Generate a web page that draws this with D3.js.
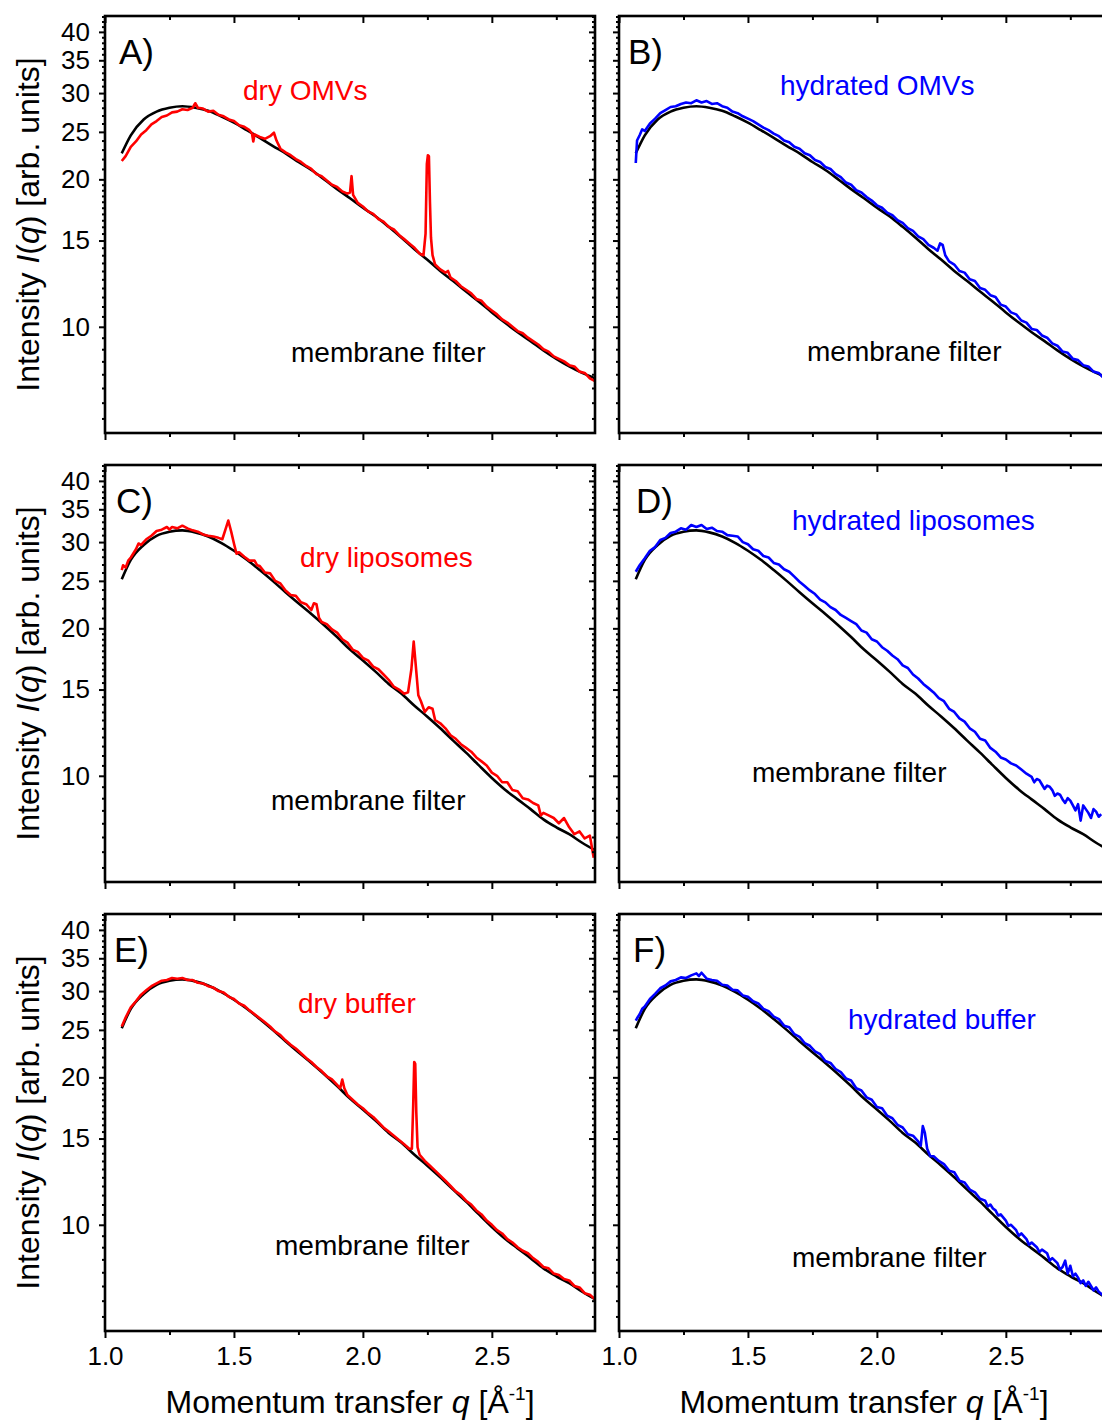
<!DOCTYPE html>
<html>
<head>
<meta charset="utf-8">
<script src="https://cdn.jsdelivr.net/npm/d3@7"></script>
<style>
  body { margin: 0; background: #fff; }
  svg { display: block; font-family: "Liberation Sans", Arial, sans-serif; }
</style>
</head>
<body>
<div id="chart"></div>
<script>
// membrane filter reference curves (q in 1/A, intensity arb. units)
const qFilter = [1.065, 1.10, 1.15, 1.20, 1.25, 1.30, 1.35, 1.40, 1.45, 1.50, 1.55, 1.60, 1.65, 1.70, 1.75,
  1.80, 1.85, 1.90, 1.95, 2.00, 2.05, 2.10, 2.15, 2.20, 2.25, 2.30, 2.35, 2.40, 2.45, 2.50, 2.55, 2.60,
  2.65, 2.70, 2.75, 2.80, 2.85, 2.90];
const filterAB = [22.6, 24.6, 26.5, 27.5, 28.0, 28.2, 28.0, 27.6, 26.9, 26.1, 25.2, 24.3, 23.4, 22.6, 21.7,
  20.9, 20.0, 19.1, 18.3, 17.5, 16.8, 16.0, 15.2, 14.4, 13.7, 13.0, 12.4, 11.8, 11.25, 10.7, 10.2, 9.75,
  9.35, 8.95, 8.6, 8.3, 8.05, 7.85];
const filterCF = [25.2, 27.6, 29.6, 30.9, 31.5, 31.7, 31.4, 30.8, 29.9, 28.8, 27.6, 26.3, 25.0, 23.7, 22.5,
  21.4, 20.3, 19.2, 18.1, 17.2, 16.3, 15.4, 14.7, 13.9, 13.2, 12.5, 11.8, 11.15, 10.5, 9.9, 9.38, 8.95,
  8.55, 8.15, 7.85, 7.6, 7.3, 7.05];

// sample curves [q, I]
const dryOMVs = [[1.065, 21.8], [1.08, 22.3], [1.10, 23.3], [1.12, 23.9], [1.14, 24.7], [1.16, 25.2], [1.18, 25.9],
  [1.20, 26.3], [1.22, 26.8], [1.24, 27.0], [1.26, 27.4], [1.28, 27.5], [1.30, 27.8], [1.32, 27.7], [1.34, 28.0],
  [1.35, 28.6], [1.36, 28.0], [1.38, 27.9], [1.40, 27.5], [1.42, 27.6], [1.44, 27.1], [1.46, 26.9], [1.48, 26.5],
  [1.50, 26.3], [1.52, 25.8], [1.54, 25.6], [1.56, 25.2], [1.57, 24.8], [1.575, 23.9], [1.58, 24.7], [1.60, 24.4],
  [1.62, 24.2], [1.64, 24.5], [1.655, 24.9], [1.665, 24.0], [1.68, 23.1], [1.70, 22.7], [1.72, 22.4], [1.74, 22.0],
  [1.76, 21.7], [1.78, 21.3], [1.80, 21.0], [1.82, 20.5], [1.84, 20.3], [1.86, 19.9], [1.88, 19.5], [1.90, 19.3],
  [1.92, 18.9], [1.94, 18.7], [1.95, 18.8], [1.956, 20.3], [1.962, 18.6], [1.98, 17.9], [2.00, 17.6], [2.02, 17.2],
  [2.04, 17.0], [2.06, 16.6], [2.08, 16.4], [2.10, 16.0], [2.12, 15.8], [2.14, 15.4], [2.16, 15.1], [2.18, 14.8],
  [2.20, 14.5], [2.22, 14.1], [2.235, 14.0], [2.243, 15.5], [2.248, 21.5], [2.252, 22.4], [2.256, 22.3],
  [2.26, 18.0], [2.264, 15.2], [2.27, 14.0], [2.28, 13.4], [2.30, 13.1], [2.32, 12.9], [2.33, 13.0], [2.34, 12.6],
  [2.36, 12.4], [2.38, 12.1], [2.40, 11.9], [2.42, 11.7], [2.44, 11.4], [2.46, 11.3], [2.48, 11.0], [2.50, 10.8],
  [2.52, 10.6], [2.54, 10.35], [2.56, 10.2], [2.58, 10.0], [2.60, 9.8], [2.62, 9.7], [2.64, 9.5], [2.66, 9.35],
  [2.68, 9.2], [2.70, 9.0], [2.72, 8.9], [2.74, 8.7], [2.76, 8.6], [2.78, 8.5], [2.80, 8.35], [2.82, 8.3],
  [2.84, 8.1], [2.86, 8.05], [2.88, 7.85], [2.90, 7.75]];

const hydratedOMVs = [[1.065, 21.6], [1.07, 24.0], [1.08, 24.6], [1.09, 25.3], [1.10, 25.1], [1.12, 26.0],
  [1.14, 26.6], [1.16, 27.3], [1.18, 27.7], [1.20, 28.1], [1.22, 28.2], [1.24, 28.5], [1.26, 28.7], [1.28, 28.6],
  [1.30, 29.0], [1.32, 28.7], [1.34, 28.9], [1.36, 28.5], [1.38, 28.6], [1.40, 28.2], [1.42, 28.0], [1.44, 27.5],
  [1.46, 27.3], [1.48, 26.9], [1.50, 26.6], [1.52, 26.3], [1.54, 25.9], [1.56, 25.5], [1.58, 25.2], [1.60, 24.8],
  [1.62, 24.5], [1.64, 24.0], [1.66, 23.8], [1.68, 23.3], [1.70, 23.1], [1.72, 22.6], [1.74, 22.4], [1.76, 21.9],
  [1.78, 21.7], [1.80, 21.2], [1.82, 21.0], [1.84, 20.5], [1.86, 20.2], [1.88, 19.7], [1.90, 19.5], [1.92, 19.0],
  [1.94, 18.8], [1.96, 18.4], [1.98, 18.1], [2.00, 17.7], [2.02, 17.5], [2.04, 17.1], [2.06, 16.9], [2.08, 16.5],
  [2.10, 16.3], [2.12, 15.9], [2.14, 15.7], [2.16, 15.3], [2.18, 15.1], [2.20, 14.7], [2.22, 14.5], [2.235, 14.3],
  [2.245, 14.8], [2.255, 14.7], [2.265, 14.0], [2.28, 13.6], [2.30, 13.4], [2.32, 13.0], [2.34, 12.9], [2.36, 12.5],
  [2.38, 12.4], [2.40, 12.0], [2.42, 11.9], [2.44, 11.6], [2.46, 11.5], [2.48, 11.1], [2.50, 11.0], [2.52, 10.7],
  [2.54, 10.6], [2.56, 10.3], [2.58, 10.2], [2.60, 9.9], [2.62, 9.85], [2.64, 9.6], [2.66, 9.5], [2.68, 9.25],
  [2.70, 9.15], [2.72, 8.9], [2.74, 8.85], [2.76, 8.6], [2.78, 8.55], [2.80, 8.35], [2.82, 8.3], [2.84, 8.1],
  [2.86, 8.05], [2.88, 7.85], [2.90, 7.8]];

const dryLiposomes = [[1.065, 26.3], [1.07, 26.9], [1.08, 26.6], [1.09, 27.5], [1.10, 27.9], [1.12, 29.0],
  [1.13, 29.8], [1.14, 29.6], [1.16, 30.4], [1.18, 30.9], [1.20, 31.6], [1.22, 31.8], [1.24, 32.2], [1.25, 31.8],
  [1.26, 32.2], [1.28, 32.0], [1.30, 32.4], [1.32, 32.0], [1.34, 31.7], [1.36, 31.5], [1.38, 31.1], [1.40, 30.9],
  [1.42, 30.8], [1.44, 30.6], [1.455, 30.4], [1.47, 32.2], [1.478, 33.2], [1.49, 31.4], [1.50, 29.8], [1.51, 28.4],
  [1.52, 28.6], [1.54, 28.0], [1.56, 27.5], [1.58, 27.5], [1.59, 26.9], [1.60, 26.8], [1.62, 26.0], [1.64, 25.9],
  [1.66, 25.0], [1.68, 24.7], [1.70, 23.9], [1.72, 23.4], [1.74, 23.3], [1.76, 22.6], [1.78, 22.4], [1.80, 21.8],
  [1.81, 22.5], [1.82, 22.4], [1.83, 21.0], [1.84, 20.6], [1.86, 20.4], [1.88, 19.9], [1.90, 19.6], [1.92, 19.0],
  [1.94, 18.7], [1.96, 18.1], [1.98, 17.9], [2.00, 17.4], [2.02, 17.2], [2.04, 16.7], [2.06, 16.5], [2.08, 16.1],
  [2.10, 15.7], [2.12, 15.2], [2.14, 15.0], [2.16, 14.7], [2.175, 14.8], [2.188, 16.5], [2.197, 18.8],
  [2.205, 16.8], [2.215, 14.6], [2.225, 14.2], [2.24, 13.5], [2.255, 13.8], [2.27, 13.7], [2.28, 13.0],
  [2.30, 12.8], [2.32, 12.5], [2.34, 12.1], [2.36, 11.9], [2.38, 11.6], [2.40, 11.4], [2.42, 11.2], [2.44, 10.9],
  [2.46, 10.7], [2.48, 10.5], [2.50, 10.15], [2.52, 10.0], [2.54, 9.7], [2.56, 9.7], [2.58, 9.35], [2.60, 9.3],
  [2.62, 9.0], [2.64, 8.95], [2.66, 8.8], [2.68, 8.7], [2.69, 8.3], [2.70, 8.4], [2.72, 8.3], [2.74, 8.2],
  [2.76, 8.0], [2.78, 8.2], [2.80, 7.85], [2.82, 7.6], [2.84, 7.7], [2.86, 7.45], [2.88, 7.55], [2.895, 6.8]];

const hydratedLiposomes = [[1.065, 26.1], [1.08, 26.9], [1.10, 27.8], [1.12, 28.8], [1.14, 29.3], [1.16, 30.3],
  [1.18, 30.6], [1.20, 31.3], [1.22, 31.5], [1.24, 32.0], [1.26, 31.8], [1.28, 32.5], [1.30, 32.2], [1.32, 32.5],
  [1.34, 31.9], [1.36, 32.1], [1.38, 31.6], [1.40, 31.5], [1.42, 31.0], [1.44, 30.9], [1.46, 30.8], [1.48, 30.0],
  [1.50, 29.7], [1.52, 29.0], [1.54, 28.8], [1.56, 28.1], [1.58, 27.9], [1.60, 27.2], [1.62, 27.0], [1.64, 26.4],
  [1.66, 26.1], [1.68, 25.5], [1.70, 24.9], [1.72, 24.4], [1.74, 23.9], [1.76, 23.5], [1.78, 22.9], [1.80, 22.6],
  [1.82, 22.1], [1.84, 21.8], [1.86, 21.3], [1.88, 21.0], [1.90, 20.7], [1.92, 20.4], [1.94, 19.8], [1.96, 19.6],
  [1.98, 19.0], [2.00, 18.8], [2.02, 18.3], [2.04, 18.0], [2.06, 17.6], [2.08, 17.3], [2.10, 16.8], [2.12, 16.6],
  [2.14, 16.1], [2.16, 15.8], [2.18, 15.4], [2.20, 15.1], [2.22, 14.8], [2.24, 14.4], [2.26, 14.2], [2.28, 13.7],
  [2.30, 13.5], [2.32, 13.1], [2.34, 12.9], [2.36, 12.5], [2.38, 12.3], [2.40, 11.9], [2.42, 11.8], [2.44, 11.4],
  [2.46, 11.2], [2.48, 10.9], [2.50, 10.8], [2.52, 10.6], [2.54, 10.5], [2.56, 10.3], [2.58, 10.1], [2.60, 9.95],
  [2.61, 9.7], [2.62, 9.85], [2.63, 9.8], [2.64, 9.6], [2.65, 9.4], [2.66, 9.55], [2.67, 9.5], [2.68, 9.35],
  [2.69, 9.1], [2.70, 9.2], [2.71, 9.15], [2.72, 8.95], [2.73, 8.8], [2.74, 9.0], [2.75, 8.9], [2.76, 8.7],
  [2.77, 8.5], [2.78, 8.75], [2.79, 8.1], [2.80, 8.7], [2.81, 8.55], [2.82, 8.4], [2.83, 8.2], [2.84, 8.55],
  [2.85, 8.45], [2.86, 8.25], [2.87, 8.35]];

const dryBuffer = [[1.065, 25.4], [1.08, 26.5], [1.10, 27.8], [1.12, 28.6], [1.14, 29.5], [1.16, 30.1],
  [1.18, 30.7], [1.20, 31.1], [1.22, 31.5], [1.24, 31.6], [1.26, 31.9], [1.28, 31.8], [1.30, 31.9], [1.32, 31.6],
  [1.34, 31.6], [1.36, 31.2], [1.38, 31.1], [1.40, 30.7], [1.42, 30.5], [1.44, 30.0], [1.46, 29.8], [1.48, 29.2],
  [1.50, 28.9], [1.52, 28.3], [1.54, 28.0], [1.56, 27.4], [1.58, 26.9], [1.60, 26.4], [1.62, 25.9], [1.64, 25.4],
  [1.66, 24.8], [1.68, 24.4], [1.70, 23.8], [1.72, 23.3], [1.74, 22.9], [1.76, 22.4], [1.78, 21.9], [1.80, 21.5],
  [1.82, 21.0], [1.84, 20.6], [1.86, 20.1], [1.88, 19.8], [1.90, 19.3], [1.912, 19.0], [1.92, 19.8], [1.928, 19.0],
  [1.94, 18.4], [1.96, 18.0], [1.98, 17.6], [2.00, 17.3], [2.02, 16.9], [2.04, 16.6], [2.06, 16.2], [2.08, 15.8],
  [2.10, 15.5], [2.12, 15.2], [2.14, 14.9], [2.16, 14.6], [2.18, 14.3], [2.19, 14.3], [2.195, 17.5], [2.199, 21.5],
  [2.203, 21.3], [2.207, 17.0], [2.212, 14.4], [2.22, 13.9], [2.24, 13.5], [2.26, 13.2], [2.28, 12.9], [2.30, 12.6],
  [2.32, 12.3], [2.34, 12.0], [2.36, 11.7], [2.38, 11.5], [2.40, 11.2], [2.42, 11.0], [2.44, 10.7], [2.46, 10.5],
  [2.48, 10.2], [2.50, 10.0], [2.52, 9.75], [2.54, 9.6], [2.56, 9.35], [2.58, 9.2], [2.60, 9.0], [2.62, 8.85],
  [2.64, 8.75], [2.66, 8.55], [2.68, 8.4], [2.70, 8.2], [2.72, 8.15], [2.74, 7.95], [2.76, 7.9], [2.78, 7.75],
  [2.80, 7.7], [2.82, 7.5], [2.84, 7.45], [2.86, 7.25], [2.88, 7.2], [2.90, 7.05]];

const hydratedBuffer = [[1.065, 26.1], [1.07, 26.4], [1.08, 26.9], [1.09, 27.6], [1.10, 27.9], [1.12, 28.9],
  [1.14, 29.6], [1.16, 30.4], [1.18, 30.8], [1.20, 31.4], [1.22, 31.6], [1.24, 32.0], [1.26, 31.9], [1.28, 32.3],
  [1.30, 32.6], [1.31, 32.2], [1.32, 32.7], [1.34, 31.8], [1.36, 31.6], [1.38, 31.5], [1.40, 30.9], [1.42, 30.8],
  [1.44, 30.2], [1.46, 30.1], [1.48, 29.4], [1.50, 29.2], [1.52, 28.6], [1.54, 28.3], [1.56, 27.6], [1.58, 27.3],
  [1.60, 26.6], [1.62, 26.3], [1.64, 25.5], [1.66, 25.3], [1.68, 24.5], [1.70, 24.2], [1.72, 23.5], [1.74, 23.2],
  [1.76, 22.6], [1.78, 22.3], [1.80, 21.6], [1.82, 21.4], [1.84, 20.8], [1.86, 20.5], [1.88, 19.9], [1.90, 19.7],
  [1.92, 19.0], [1.94, 18.8], [1.96, 18.2], [1.98, 18.0], [2.00, 17.4], [2.02, 17.3], [2.04, 16.7], [2.06, 16.5],
  [2.08, 16.0], [2.10, 15.8], [2.12, 15.3], [2.14, 15.2], [2.16, 14.8], [2.17, 14.5], [2.178, 15.9], [2.186, 15.4],
  [2.195, 14.3], [2.207, 13.8], [2.22, 13.8], [2.24, 13.5], [2.26, 13.3], [2.28, 12.9], [2.30, 12.8], [2.32, 12.3],
  [2.34, 12.2], [2.36, 11.8], [2.38, 11.65], [2.40, 11.3], [2.42, 11.2], [2.43, 10.9], [2.44, 11.0], [2.45, 10.8],
  [2.46, 10.7], [2.47, 10.45], [2.48, 10.5], [2.50, 10.2], [2.51, 9.95], [2.52, 10.0], [2.54, 9.75], [2.55, 9.5],
  [2.56, 9.6], [2.58, 9.35], [2.59, 9.1], [2.60, 9.2], [2.62, 9.0], [2.63, 8.8], [2.64, 8.9], [2.66, 8.75],
  [2.67, 8.45], [2.68, 8.55], [2.70, 8.35], [2.71, 8.1], [2.72, 8.2], [2.73, 8.45], [2.74, 7.95], [2.75, 8.25],
  [2.76, 7.85], [2.77, 7.95], [2.78, 7.8], [2.79, 7.6], [2.80, 7.7], [2.81, 7.5], [2.82, 7.65], [2.84, 7.35],
  [2.85, 7.45], [2.86, 7.3], [2.88, 7.15], [2.90, 7.1]];

// axis ticks
const xTicks = [1.0, 1.5, 2.0, 2.5];
const xMinorTicks = [1.25, 1.75, 2.25, 2.75];
const yTicks = [10, 15, 20, 25, 30, 35, 40];
const yMinorTicks = [6.5, 7, 7.5, 8, 8.5, 9, 9.5, 10.5, 11, 11.5, 12, 12.5, 13, 13.5, 14, 14.5, 15.5, 16, 16.5,
  17, 17.5, 18, 18.5, 19, 19.5, 21, 22, 23, 24, 26, 27, 28, 29, 31, 32, 33, 34, 36, 37, 38, 39, 41, 42, 43];

const panels = [
  { letter: "A)", col: 0, row: 0, data: dryOMVs, filter: filterAB, color: "#ff0000", label: "dry OMVs",
    lx: 243, ly: 100, fx: 291, fy: 362, px: 119 },
  { letter: "B)", col: 1, row: 0, data: hydratedOMVs, filter: filterAB, color: "#0000ff", label: "hydrated OMVs",
    lx: 780, ly: 95, fx: 807, fy: 361, px: 628 },
  { letter: "C)", col: 0, row: 1, data: dryLiposomes, filter: filterCF, color: "#ff0000", label: "dry liposomes",
    lx: 300, ly: 567, fx: 271, fy: 810, px: 116 },
  { letter: "D)", col: 1, row: 1, data: hydratedLiposomes, filter: filterCF, color: "#0000ff", label: "hydrated liposomes",
    lx: 792, ly: 530, fx: 752, fy: 782, px: 636 },
  { letter: "E)", col: 0, row: 2, data: dryBuffer, filter: filterCF, color: "#ff0000", label: "dry buffer",
    lx: 298, ly: 1013, fx: 275, fy: 1255, px: 114 },
  { letter: "F)", col: 1, row: 2, data: hydratedBuffer, filter: filterCF, color: "#0000ff", label: "hydrated buffer",
    lx: 848, ly: 1029, fx: 792, fy: 1267, px: 633 }
];

const width = 1102, height = 1421;
const colX = [105, 619];
const rowY = [16, 465, 914];
const pw = 490, ph = 417;

const svg = d3.select("#chart").append("svg")
  .attr("width", width)
  .attr("height", height);

const x = d3.scaleLinear().domain([1.0, 2.9]).range([0, pw]);
const y = d3.scaleLog().domain([6.07, 43.1]).range([ph, 0]);

const line = d3.line().x(d => x(d[0])).y(d => y(d[1]));
const smooth = d3.line().curve(d3.curveMonotoneX).x(d => x(d[0])).y(d => y(d[1]));

panels.forEach((p, i) => {
  const g = svg.append("g").attr("transform", `translate(${colX[p.col]},${rowY[p.row]})`);

  g.append("clipPath").attr("id", "clip" + i)
    .append("rect").attr("width", pw).attr("height", ph);

  const plot = g.append("g").attr("clip-path", `url(#clip${i})`);
  plot.append("path")
    .datum(qFilter.map((q, k) => [q, p.filter[k]]))
    .attr("fill", "none").attr("stroke", "#000").attr("stroke-width", 2.6)
    .attr("d", smooth);
  plot.append("path")
    .datum(p.data)
    .attr("fill", "none").attr("stroke", p.color).attr("stroke-width", 2.6)
    .attr("stroke-linejoin", "round")
    .attr("d", line);

  // axes: outward ticks on left/bottom, mirrored inward ticks on right/top
  const axes = [
    [d3.axisLeft(y).tickValues(yTicks).tickSize(6).tickPadding(9), "translate(0,0)", p.col === 0],
    [d3.axisLeft(y).tickValues(yMinorTicks).tickSize(3), "translate(0,0)", false],
    [d3.axisRight(y).tickValues(yTicks).tickSize(-6), `translate(${pw},0)`, false],
    [d3.axisRight(y).tickValues(yMinorTicks).tickSize(-3), `translate(${pw},0)`, false],
    [d3.axisBottom(x).tickValues(xTicks).tickSize(7).tickPadding(9).tickFormat(d3.format(".1f")), `translate(0,${ph})`, p.row === 2],
    [d3.axisBottom(x).tickValues(xMinorTicks).tickSize(4), `translate(0,${ph})`, false],
    [d3.axisTop(x).tickValues(xTicks).tickSize(-7), "translate(0,0)", false],
    [d3.axisTop(x).tickValues(xMinorTicks).tickSize(-4), "translate(0,0)", false]
  ];
  axes.forEach(([ax, tr, labels]) => {
    const a = g.append("g").attr("transform", tr).call(ax);
    a.select(".domain").remove();
    a.selectAll(".tick line").attr("stroke", "#000").attr("stroke-width", 2);
    if (labels) {
      a.selectAll(".tick text").attr("font-size", 26).attr("fill", "#000")
        .attr("font-family", "Liberation Sans, Arial, sans-serif");
    } else {
      a.selectAll(".tick text").remove();
    }
  });

  g.append("rect")
    .attr("width", pw).attr("height", ph)
    .attr("fill", "none").attr("stroke", "#000").attr("stroke-width", 2.6);

  svg.append("text").attr("x", p.px).attr("y", rowY[p.row] + 48)
    .attr("font-size", 35).text(p.letter);
  svg.append("text").attr("x", p.lx).attr("y", p.ly)
    .attr("font-size", 28).attr("fill", p.color).text(p.label);
  svg.append("text").attr("x", p.fx).attr("y", p.fy)
    .attr("font-size", 28).attr("fill", "#000").text("membrane filter");
});

// y axis titles
rowY.forEach(top => {
  const t = svg.append("text")
    .attr("transform", `translate(39,${top + ph / 2}) rotate(-90)`)
    .attr("text-anchor", "middle").attr("font-size", 32);
  t.append("tspan").text("Intensity ");
  t.append("tspan").attr("font-style", "italic").text("I");
  t.append("tspan").text("(");
  t.append("tspan").attr("font-style", "italic").text("q");
  t.append("tspan").text(") [arb. units]");
});

// x axis titles
colX.forEach(left => {
  const t = svg.append("text")
    .attr("x", left + pw / 2).attr("y", 1413)
    .attr("text-anchor", "middle").attr("font-size", 32);
  t.append("tspan").text("Momentum transfer ");
  t.append("tspan").attr("font-style", "italic").text("q");
  t.append("tspan").text(" [Å");
  t.append("tspan").attr("font-size", 19).attr("dy", -13).text("-1");
  t.append("tspan").attr("dy", 13).text("]");
});
</script>
</body>
</html>
